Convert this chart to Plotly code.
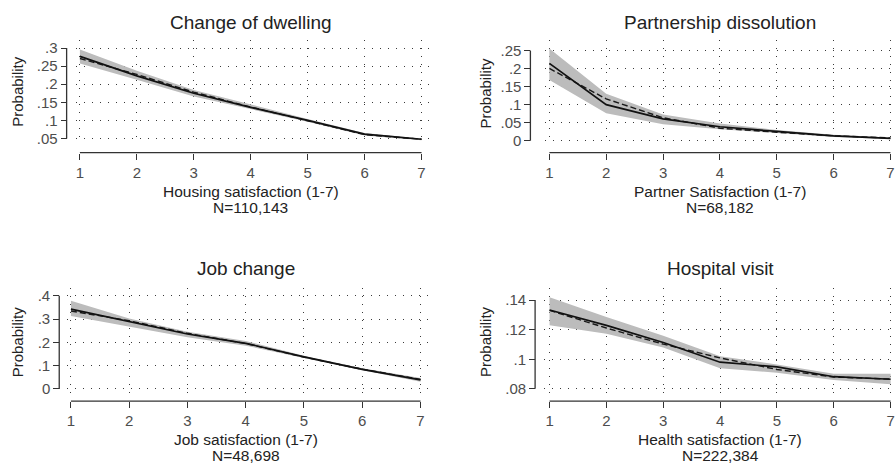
import plotly.graph_objects as go

# ---------------- data ----------------
x_levels = [1, 2, 3, 4, 5, 6, 7]
x_ticktext = ["1", "2", "3", "4", "5", "6", "7"]

dwelling_solid = [0.277, 0.223, 0.175, 0.136, 0.100, 0.062, 0.048]
dwelling_dashed = [0.271, 0.227, 0.178, 0.137, 0.099, 0.061, 0.048]
dwelling_upper = [0.296, 0.237, 0.184, 0.143, 0.104, 0.065, 0.050]
dwelling_lower = [0.257, 0.212, 0.166, 0.130, 0.096, 0.058, 0.045]
dwelling_ticks = [0.05, 0.10, 0.15, 0.20, 0.25, 0.30]
dwelling_ticktext = [".05", ".1", ".15", ".2", ".25", ".3"]

partner_solid = [0.214, 0.100, 0.061, 0.039, 0.026, 0.014, 0.007]
partner_dashed = [0.200, 0.116, 0.064, 0.035, 0.024, 0.014, 0.008]
partner_upper = [0.255, 0.130, 0.073, 0.048, 0.030, 0.017, 0.009]
partner_lower = [0.168, 0.076, 0.046, 0.032, 0.022, 0.011, 0.005]
partner_ticks = [0.0, 0.05, 0.10, 0.15, 0.20, 0.25]
partner_ticktext = ["0", ".05", ".1", ".15", ".2", ".25"]

job_solid = [0.343, 0.289, 0.236, 0.196, 0.138, 0.084, 0.039]
job_dashed = [0.335, 0.293, 0.239, 0.195, 0.137, 0.085, 0.041]
job_upper = [0.379, 0.303, 0.246, 0.206, 0.143, 0.089, 0.047]
job_lower = [0.313, 0.268, 0.222, 0.186, 0.133, 0.080, 0.031]
job_ticks = [0.0, 0.1, 0.2, 0.3, 0.4]
job_ticktext = ["0", ".1", ".2", ".3", ".4"]

health_solid = [0.1333, 0.1229, 0.1113, 0.0980, 0.0949, 0.0882, 0.0865]
health_dashed = [0.1330, 0.1211, 0.1102, 0.1009, 0.0931, 0.0880, 0.0866]
health_upper = [0.1418, 0.1285, 0.1158, 0.1020, 0.0965, 0.0902, 0.0902]
health_lower = [0.1229, 0.1173, 0.1080, 0.0940, 0.0909, 0.0860, 0.0831]
health_ticks = [0.08, 0.10, 0.12, 0.14]
health_ticktext = [".08", ".1", ".12", ".14"]

titles = ["Change of dwelling", "Partnership dissolution", "Job change", "Hospital visit"]
x_titles = ["Housing satisfaction (1-7)", "Partner Satisfaction (1-7)",
            "Job satisfaction (1-7)", "Health satisfaction (1-7)"]
n_labels = ["N=110,143", "N=68,182", "N=48,698", "N=222,384"]
y_title = "Probability"

# ---------------- layout geometry (pixels) ----------------
W, H = 895, 464
FONT = "Liberation Sans, Arial, Helvetica, sans-serif"

def px(x):
    return x / W

def py(y):
    return 1 - y / H

panels = [
    dict(solid=dwelling_solid, dashed=dwelling_dashed, upper=dwelling_upper, lower=dwelling_lower,
         ticks=dwelling_ticks, ticktext=dwelling_ticktext,
         xdom=(76, 435), ydom=(39.3, 145), xr=(0.93, 7.228), yr=(0.0345, 0.3227),
         yaxis_px=66.7, xaxis_py=153.7, title_py=21.5, xt_py=(193, 209), prob=(17.5, 91.5)),
    dict(solid=partner_solid, dashed=partner_dashed, upper=partner_upper, lower=partner_lower,
         ticks=partner_ticks, ticktext=partner_ticktext,
         xdom=(546, 895), ydom=(39.3, 145), xr=(0.93, 7.063), yr=(-0.009, 0.2793),
         yaxis_px=531, xaxis_py=153.7, title_py=21.5, xt_py=(193, 209), prob=(486, 93.3)),
    dict(solid=job_solid, dashed=job_dashed, upper=job_upper, lower=job_lower,
         ticks=job_ticks, ticktext=job_ticktext,
         xdom=(66.7, 435), ydom=(290.5, 397), xr=(0.926, 7.24), yr=(-0.0167, 0.4347),
         yaxis_px=59.3, xaxis_py=405.3, title_py=271.5, xt_py=(444.5, 460.5), prob=(17.5, 345.3)),
    dict(solid=health_solid, dashed=health_dashed, upper=health_upper, lower=health_lower,
         ticks=health_ticks, ticktext=health_ticktext,
         xdom=(545, 895), ydom=(290.5, 397), xr=(0.909, 7.06), yr=(0.0773, 0.1483),
         yaxis_px=535.7, xaxis_py=405.3, title_py=271.5, xt_py=(444.5, 460.5), prob=(486.7, 345.3)),
]

fig = go.Figure()
layout_axes = {}
shapes = []
annotations = []

AXIS_COLOR = "#333333"
TICK_FONT = dict(family=FONT, size=15, color="#4d4d4d")
GRID = dict(showgrid=True, gridcolor="#3a3a3a", gridwidth=1, griddash="1px,7px")

for i, p in enumerate(panels):
    n = "" if i == 0 else str(i + 1)
    xa, ya = "x" + n, "y" + n

    # confidence band
    fig.add_trace(go.Scatter(
        x=x_levels + x_levels[::-1], y=p["upper"] + p["lower"][::-1],
        fill="toself", fillcolor="#bcbcbc", line=dict(width=0),
        mode="lines", hoverinfo="skip", showlegend=False, xaxis=xa, yaxis=ya))
    # dashed line
    fig.add_trace(go.Scatter(
        x=x_levels, y=p["dashed"], mode="lines",
        line=dict(color="#1a1a1a", width=1.4, dash="6px,3px"),
        showlegend=False, xaxis=xa, yaxis=ya))
    # solid line
    fig.add_trace(go.Scatter(
        x=x_levels, y=p["solid"], mode="lines",
        line=dict(color="#111111", width=1.7),
        showlegend=False, xaxis=xa, yaxis=ya))

    layout_axes["xaxis" + n] = dict(
        domain=[px(p["xdom"][0]), px(p["xdom"][1])], range=list(p["xr"]),
        anchor="free", position=py(p["xaxis_py"]),
        tickvals=x_levels, ticktext=x_ticktext, ticks="outside", ticklen=6,
        tickcolor=AXIS_COLOR, tickwidth=1, tickfont=TICK_FONT,
        ticklabeloverflow="allow",
        showline=False, zeroline=False, fixedrange=True, **GRID)
    layout_axes["yaxis" + n] = dict(
        domain=[py(p["ydom"][1]), py(p["ydom"][0])], range=list(p["yr"]),
        anchor="free", position=px(p["yaxis_px"]),
        tickvals=p["ticks"], ticktext=p["ticktext"], ticks="outside", ticklen=6,
        tickcolor=AXIS_COLOR, tickwidth=1, tickfont=TICK_FONT,
        showline=False, zeroline=False, fixedrange=True, **GRID)

    # axis lines spanning only the tick range (Stata style)
    shapes.append(dict(type="line", xref=xa, yref="paper",
                       x0=x_levels[0], x1=x_levels[-1],
                       y0=py(p["xaxis_py"]), y1=py(p["xaxis_py"]),
                       line=dict(color=AXIS_COLOR, width=1.3)))
    shapes.append(dict(type="line", xref="paper", yref=ya,
                       x0=px(p["yaxis_px"]), x1=px(p["yaxis_px"]),
                       y0=p["ticks"][0], y1=p["ticks"][-1],
                       line=dict(color=AXIS_COLOR, width=1.3)))

    # titles
    annotations.append(dict(text=titles[i], xref=xa, yref="paper", x=4, y=py(p["title_py"]),
                            xanchor="center", yanchor="middle", showarrow=False,
                            font=dict(family=FONT, size=19, color="#222222")))
    annotations.append(dict(text=x_titles[i], xref=xa, yref="paper", x=4, y=py(p["xt_py"][0]),
                            xanchor="center", yanchor="middle", showarrow=False,
                            font=dict(family=FONT, size=15.5, color="#222222")))
    annotations.append(dict(text=n_labels[i], xref=xa, yref="paper", x=4, y=py(p["xt_py"][1]),
                            xanchor="center", yanchor="middle", showarrow=False,
                            font=dict(family=FONT, size=15.5, color="#222222")))
    annotations.append(dict(text=y_title, xref="paper", yref="paper",
                            x=px(p["prob"][0]), y=py(p["prob"][1]), textangle=-90,
                            xanchor="center", yanchor="middle", showarrow=False,
                            font=dict(family=FONT, size=15, color="#222222")))

fig.update_layout(
    width=W, height=H,
    margin=dict(l=0, r=0, t=0, b=0, pad=0),
    paper_bgcolor="white", plot_bgcolor="white",
    showlegend=False,
    shapes=shapes, annotations=annotations,
    **layout_axes,
)

fig.write_html("out.html", config={"displayModeBar": False},
               post_script="document.body.style.margin='0';document.body.style.overflow='hidden';")
